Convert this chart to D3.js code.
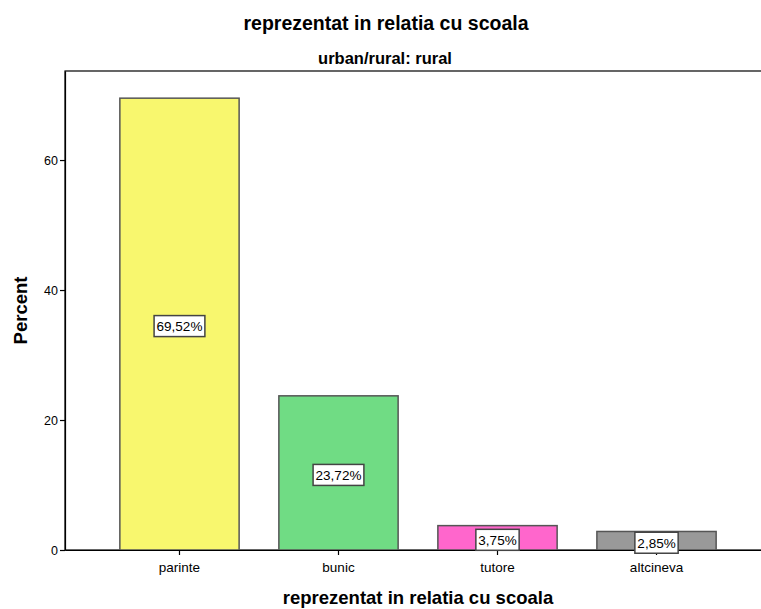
<!DOCTYPE html>
<html>
<head>
<meta charset="UTF-8"/>
<style>
  body { margin: 0; background: #fff; }
  text { font-family: "Liberation Sans", Arial, sans-serif; fill: #000; }
</style>
</head>
<body>
<svg width="761" height="609"></svg>
<script src="https://cdn.jsdelivr.net/npm/d3@7"></script>
<script>
const categories = ["parinte", "bunic", "tutore", "altcineva"];
const percents = [69.52, 23.72, 3.75, 2.85];
const labels = ["69,52%", "23,72%", "3,75%", "2,85%"];
const colors = ["#f8f76e", "#70dc84", "#ff66cc", "#999999"];
const yTicks = [0, 20, 40, 60];

const svg = d3.select("svg");
const plotLeft = 65, plotRight = 771, plotTop = 71, plotBottom = 550;

const x = d3.scaleBand()
    .domain(categories)
    .range([plotLeft, plotRight])
    .paddingInner(0.25)
    .paddingOuter(0.345);

const y = d3.scaleLinear()
    .domain([0, 73.7])
    .range([plotBottom, plotTop]);

// frame
svg.append("rect")
    .attr("x", plotLeft).attr("y", plotTop)
    .attr("width", plotRight - plotLeft).attr("height", plotBottom - plotTop)
    .attr("fill", "none").attr("stroke", "#000").attr("stroke-width", 1.2);

// bars
svg.selectAll("rect.bar")
    .data(categories)
    .enter().append("rect")
    .attr("class", "bar")
    .attr("x", d => x(d))
    .attr("y", (d, i) => y(percents[i]))
    .attr("width", x.bandwidth())
    .attr("height", (d, i) => y(0) - y(percents[i]))
    .attr("fill", (d, i) => colors[i])
    .attr("stroke", "#555")
    .attr("stroke-width", 1.5);

// axes
const yAxis = svg.append("g")
    .attr("transform", `translate(${plotLeft},0)`)
    .call(d3.axisLeft(y).tickValues(yTicks).tickSize(5).tickSizeOuter(0).tickPadding(2));
const xAxis = svg.append("g")
    .attr("transform", `translate(0,${plotBottom})`)
    .call(d3.axisBottom(x).tickSize(5).tickSizeOuter(0).tickPadding(7));
[yAxis, xAxis].forEach(g => {
    g.select(".domain").attr("stroke", "#000").attr("stroke-width", 1.2);
    g.selectAll(".tick line").attr("stroke", "#000").attr("stroke-width", 1.2);
    g.selectAll(".tick text").attr("fill", "#000")
        .style("font-family", "'Liberation Sans', Arial, sans-serif");
});
yAxis.selectAll(".tick text").attr("font-size", 12.5);
xAxis.selectAll(".tick text").attr("font-size", 13.5);

// value labels
const lab = svg.selectAll("g.lab")
    .data(categories)
    .enter().append("g")
    .attr("class", "lab")
    .attr("transform", (d, i) => `translate(${x(d) + x.bandwidth() / 2},${(y(percents[i]) + y(0)) / 2 + 2})`);
lab.append("text")
    .attr("text-anchor", "middle")
    .attr("dy", "0.36em")
    .attr("font-size", 13.5)
    .text((d, i) => labels[i]);
lab.each(function() {
    const g = d3.select(this);
    const b = g.select("text").node().getBBox();
    g.insert("rect", "text")
        .attr("x", b.x - 2.5).attr("y", -10.5)
        .attr("width", b.width + 5).attr("height", 21)
        .attr("fill", "#fff").attr("stroke", "#444").attr("stroke-width", 1.5);
});

// titles
svg.append("text")
    .attr("x", 386).attr("y", 30)
    .attr("text-anchor", "middle")
    .attr("font-size", 19.5).attr("font-weight", "bold")
    .text("reprezentat in relatia cu scoala");
svg.append("text")
    .attr("x", 385).attr("y", 64)
    .attr("text-anchor", "middle")
    .attr("font-size", 16.5).attr("font-weight", "bold")
    .text("urban/rural: rural");
svg.append("text")
    .attr("x", (plotLeft + plotRight) / 2).attr("y", 604)
    .attr("text-anchor", "middle")
    .attr("font-size", 18.5).attr("font-weight", "bold")
    .text("reprezentat in relatia cu scoala");
svg.append("text")
    .attr("transform", `translate(27,${(plotTop + plotBottom) / 2}) rotate(-90)`)
    .attr("text-anchor", "middle")
    .attr("font-size", 18.5).attr("font-weight", "bold")
    .text("Percent");
</script>
</body>
</html>
